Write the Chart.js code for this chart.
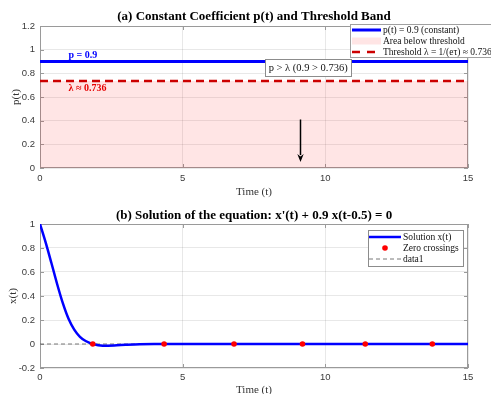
<!DOCTYPE html>
<html>
<head>
<meta charset="utf-8">
<script src="https://cdn.jsdelivr.net/npm/chart.js@4.4.1/dist/chart.umd.min.js"></script>
<style>
  html, body { margin: 0; padding: 0; background: #fff; overflow: hidden; }
  #wrap { position: relative; width: 491px; height: 394px; overflow: hidden; }
  canvas { position: absolute; left: 0; }
  #panelA { top: 0; }
  #panelB { top: 197px; }
</style>
</head>
<body>
<div id="wrap">
  <canvas id="panelA" width="491" height="200"></canvas>
  <canvas id="panelB" width="491" height="200"></canvas>
</div>
<script>
// ---- Panel (a): constant coefficient p(t) and the threshold band ----
const pTimes = [0, 15];
const pValues = [0.9, 0.9];
const thresholdTimes = [0, 15];
const thresholdValues = [0.736, 0.736];

// ---- Panel (b): solution of x'(t) + 0.9 x(t-0.5) = 0 ----
const solTimes  = [0, 0.2, 0.4, 0.6, 0.8, 1.0, 1.2, 1.4, 1.6, 1.85, 2.2, 2.6, 3.0, 3.5, 4.0,
                   5, 6, 7, 8, 9, 10, 11, 12, 13, 14, 15];
const solValues = [1, 0.845, 0.675, 0.5, 0.34, 0.21, 0.12, 0.06, 0.025, 0, -0.014, -0.012, -0.007, -0.002, 0,
                   0, 0, 0, 0, 0, 0, 0, 0, 0, 0, 0];
const zeroTimes  = [1.85, 4.35, 6.8, 9.2, 11.4, 13.75];
const zeroValues = [0, 0, 0, 0, 0, 0];
const baseTimes  = [0, 15];
const baseValues = [0, 0];

// ---- Tick labels ----
const timeTicks = [0, 5, 10, 15];
const pTicks = [0, 0.2, 0.4, 0.6, 0.8, 1, 1.2];
const solTicks = [-0.2, 0, 0.2, 0.4, 0.6, 0.8, 1];

const SERIF = "'Liberation Serif', 'Times New Roman', serif";
const SANS = "'Liberation Sans', Arial, sans-serif";
const GRID = 'rgba(0,0,0,0.09)';
const AXIS = '#9a9a9a';
const TICK_TEXT = '#3a3a3a';

const toPoints = (xs, ys) => xs.map((x, i) => ({ x, y: ys[i] }));
const fmt = v => String(Number(v.toFixed(2)));

// Box around the axes with short inward tick marks on every side
const frame = {
  id: 'frame',
  beforeDatasetsDraw(chart, args, o) {
    const { ctx, chartArea: a, scales } = chart;
    ctx.save();
    ctx.strokeStyle = o.color;
    ctx.lineWidth = 1;
    ctx.strokeRect(Math.round(a.left) + 0.5, Math.round(a.top) + 0.5,
                   Math.round(a.width) - 1, Math.round(a.height) - 1);
    ctx.beginPath();
    scales.x.ticks.forEach(t => {
      const px = Math.round(scales.x.getPixelForValue(t.value)) + 0.5;
      ctx.moveTo(px, a.bottom); ctx.lineTo(px, a.bottom - o.length);
      ctx.moveTo(px, a.top); ctx.lineTo(px, a.top + o.length);
    });
    scales.y.ticks.forEach(t => {
      const py = Math.round(scales.y.getPixelForValue(t.value)) + 0.5;
      ctx.moveTo(a.left, py); ctx.lineTo(a.left + o.length, py);
      ctx.moveTo(a.right, py); ctx.lineTo(a.right - o.length, py);
    });
    ctx.stroke();
    ctx.restore();
  }
};

// Boxed legend that reads labels and styles from the datasets
const boxLegend = {
  id: 'boxLegend',
  afterDraw(chart, args, o) {
    const ctx = chart.ctx;
    ctx.save();
    ctx.font = o.font;
    const sets = chart.data.datasets;
    const widest = Math.max(...o.items.map(it => ctx.measureText(sets[it.dataset].label).width));
    const w = Math.round(o.textX + widest + o.padRight);
    ctx.fillStyle = '#fff';
    ctx.fillRect(o.left, o.top, w, o.height);
    ctx.strokeStyle = o.borderColor;
    ctx.lineWidth = 1;
    ctx.strokeRect(o.left + 0.5, o.top + 0.5, w, o.height);
    o.items.forEach((it, i) => {
      const ds = sets[it.dataset];
      const y = o.top + o.firstRow + i * o.rowGap;
      const x0 = o.left + o.sample[0], x1 = o.left + o.sample[1];
      if (it.kind === 'line') {
        ctx.save();
        ctx.strokeStyle = ds.borderColor;
        ctx.lineWidth = ds.borderWidth;
        ctx.setLineDash(it.dash || ds.borderDash || []);
        ctx.beginPath(); ctx.moveTo(x0, y); ctx.lineTo(x1, y); ctx.stroke();
        ctx.restore();
      } else if (it.kind === 'area') {
        ctx.fillStyle = ds.backgroundColor;
        ctx.fillRect(x0, y - o.areaHalf, x1 - x0, o.areaHalf * 2);
      } else if (it.kind === 'dot') {
        ctx.fillStyle = ds.pointBackgroundColor;
        ctx.beginPath(); ctx.arc((x0 + x1) / 2, y, ds.pointRadius, 0, Math.PI * 2); ctx.fill();
      }
      ctx.fillStyle = o.color;
      ctx.textAlign = 'left';
      ctx.textBaseline = 'middle';
      ctx.fillText(ds.label, o.left + o.textX, y);
    });
    ctx.restore();
  }
};

// Text labels, boxed note and arrow placed in data coordinates
const notes = {
  id: 'notes',
  afterDatasetsDraw(chart, args, o) {
    const { ctx, scales: { x, y } } = chart;
    ctx.save();
    ctx.textAlign = 'left';
    ctx.textBaseline = 'middle';
    o.labels.forEach(l => {
      ctx.font = l.font;
      ctx.fillStyle = l.color;
      ctx.fillText(l.text, x.getPixelForValue(l.at[0]), y.getPixelForValue(l.at[1]));
    });
    const b = o.box;
    ctx.font = b.font;
    const bw = Math.round(ctx.measureText(b.text).width + b.padX * 2);
    const cx = x.getPixelForValue(b.at[0]), cy = y.getPixelForValue(b.at[1]);
    const bx = Math.round(cx - bw / 2), by = Math.round(cy - b.height / 2);
    ctx.fillStyle = '#fff';
    ctx.fillRect(bx, by, bw, b.height);
    ctx.strokeStyle = b.borderColor;
    ctx.lineWidth = 1;
    ctx.strokeRect(bx + 0.5, by + 0.5, bw, b.height);
    ctx.fillStyle = b.color;
    ctx.textAlign = 'center';
    ctx.fillText(b.text, cx, cy + 0.5);
    const a = o.arrow;
    const ax = Math.round(x.getPixelForValue(a.from[0])) + 0.5;
    const y0 = y.getPixelForValue(a.from[1]), y1 = y.getPixelForValue(a.to[1]);
    ctx.strokeStyle = a.color;
    ctx.fillStyle = a.color;
    ctx.lineWidth = a.width;
    ctx.beginPath(); ctx.moveTo(ax, y0); ctx.lineTo(ax, y1 - a.head + 1); ctx.stroke();
    ctx.beginPath();
    ctx.moveTo(ax - a.half, y1 - a.head);
    ctx.lineTo(ax, y1 - a.head + 2.5);
    ctx.lineTo(ax + a.half, y1 - a.head);
    ctx.lineTo(ax, y1);
    ctx.closePath();
    ctx.fill();
    ctx.restore();
  }
};

function xScale(tickPad, titlePadBottom, height) {
  return {
    type: 'linear', min: 0, max: 15,
    afterBuildTicks: s => { s.ticks = timeTicks.map(v => ({ value: v })); },
    afterFit: s => { s.height = height; },
    grid: { color: GRID, drawTicks: false },
    border: { display: false },
    ticks: { padding: tickPad, maxRotation: 0, color: TICK_TEXT,
             font: { family: SANS, size: 9.5 }, callback: v => fmt(v) },
    title: { display: true, text: 'Time (t)', color: '#333',
             font: { family: SERIF, size: 11 }, padding: { top: 0, bottom: titlePadBottom } }
  };
}

function yScale(min, max, ticks, label, titlePadTop) {
  return {
    type: 'linear', min, max,
    afterBuildTicks: s => { s.ticks = ticks.map(v => ({ value: v })); },
    afterFit: s => { s.width = 40; },
    grid: { color: GRID, drawTicks: false },
    border: { display: false },
    ticks: { padding: 5, color: TICK_TEXT, font: { family: SANS, size: 9.5 }, callback: v => fmt(v) },
    title: { display: true, text: label, color: '#333',
             font: { family: SERIF, size: 11 }, padding: { top: titlePadTop, bottom: 0 } }
  };
}

function titleOpts(text, top, bottom) {
  return { display: true, text, fullSize: false, color: '#000',
           font: { family: SERIF, size: 13, weight: 'bold' }, padding: { top, bottom } };
}

const LEGEND_FONT = "9.5px " + SERIF;

new Chart(document.getElementById('panelA'), {
  type: 'line',
  data: {
    datasets: [
      { label: 'p(t) = 0.9 (constant)', data: toPoints(pTimes, pValues),
        borderColor: '#0000ff', borderWidth: 3, pointRadius: 0, order: 1 },
      { label: 'Area below threshold', data: toPoints(thresholdTimes, thresholdValues),
        borderWidth: 0, borderColor: 'rgba(0,0,0,0)', backgroundColor: 'rgba(255,0,0,0.1)',
        fill: 'origin', pointRadius: 0, order: 3 },
      { label: 'Threshold λ = 1/(eτ) ≈ 0.736', data: toPoints(thresholdTimes, thresholdValues),
        borderColor: '#cc0000', borderWidth: 2.5, borderDash: [8, 5], pointRadius: 0, order: 2 }
    ]
  },
  options: {
    responsive: false, animation: false, devicePixelRatio: 1,
    layout: { padding: { left: 0, right: 23, top: 0, bottom: 0 } },
    scales: { x: xScale(5, 1.4, 32), y: yScale(0, 1.2, pTicks, 'p(t)', 10) },
    plugins: {
      legend: { display: false },
      tooltip: { enabled: false },
      title: titleOpts('(a) Constant Coefficient p(t) and Threshold Band', 9.2, 1.2),
      frame: { color: AXIS, length: 4 },
      notes: {
        labels: [
          { text: 'p = 0.9', at: [1, 0.95], color: '#0000ff', font: "bold 10px " + SERIF },
          { text: 'λ ≈ 0.736', at: [1, 0.676], color: '#e60000', font: "bold 10px " + SERIF }
        ],
        box: { text: 'p > λ (0.9 > 0.736)', at: [9.4, 0.848], font: "10.5px " + SERIF,
               padX: 3.5, height: 17, color: '#111', borderColor: '#8c8c8c' },
        arrow: { from: [9.1, 0.41], to: [9.1, 0.05], color: '#000', width: 1.5, head: 8, half: 3.2 }
      },
      boxLegend: {
        left: 350, top: 24, height: 33, firstRow: 6, rowGap: 11, sample: [2, 31], textX: 33,
        padRight: 8, areaHalf: 3.5, font: LEGEND_FONT, color: '#111', borderColor: '#a0a0a0',
        items: [ { dataset: 0, kind: 'line' }, { dataset: 1, kind: 'area' },
                 { dataset: 2, kind: 'line', dash: [8, 7] } ]
      }
    }
  },
  plugins: [frame, notes, boxLegend]
});

new Chart(document.getElementById('panelB'), {
  type: 'line',
  data: {
    datasets: [
      { label: 'Solution x(t)', data: toPoints(solTimes, solValues),
        borderColor: '#0000ff', borderWidth: 2.5, pointRadius: 0,
        cubicInterpolationMode: 'monotone', order: 1 },
      { label: 'Zero crossings', data: toPoints(zeroTimes, zeroValues), showLine: false,
        pointRadius: 2.8, pointBorderWidth: 0, pointBackgroundColor: '#ff0000',
        borderColor: '#ff0000', order: 0 },
      { label: 'data1', data: toPoints(baseTimes, baseValues),
        borderColor: '#555555', borderWidth: 0.8, borderDash: [4, 3], pointRadius: 0, order: 2 }
    ]
  },
  options: {
    responsive: false, animation: false, devicePixelRatio: 1,
    layout: { padding: { left: 0, right: 23, top: 0, bottom: 0 } },
    scales: { x: xScale(4, 0.4, 29), y: yScale(-0.2, 1, solTicks, 'x(t)', 6.7) },
    plugins: {
      legend: { display: false },
      tooltip: { enabled: false },
      title: titleOpts("(b) Solution of the equation: x'(t) + 0.9 x(t-0.5) = 0", 11.2, 0.2),
      frame: { color: AXIS, length: 4 },
      boxLegend: {
        left: 368, top: 33, height: 36, firstRow: 7, rowGap: 11, sample: [1, 33], textX: 35,
        padRight: 4, areaHalf: 3.5, font: LEGEND_FONT, color: '#111', borderColor: '#8c8c8c',
        items: [ { dataset: 0, kind: 'line' }, { dataset: 1, kind: 'dot' }, { dataset: 2, kind: 'line' } ]
      }
    }
  },
  plugins: [frame, boxLegend]
});
</script>
</body>
</html>
